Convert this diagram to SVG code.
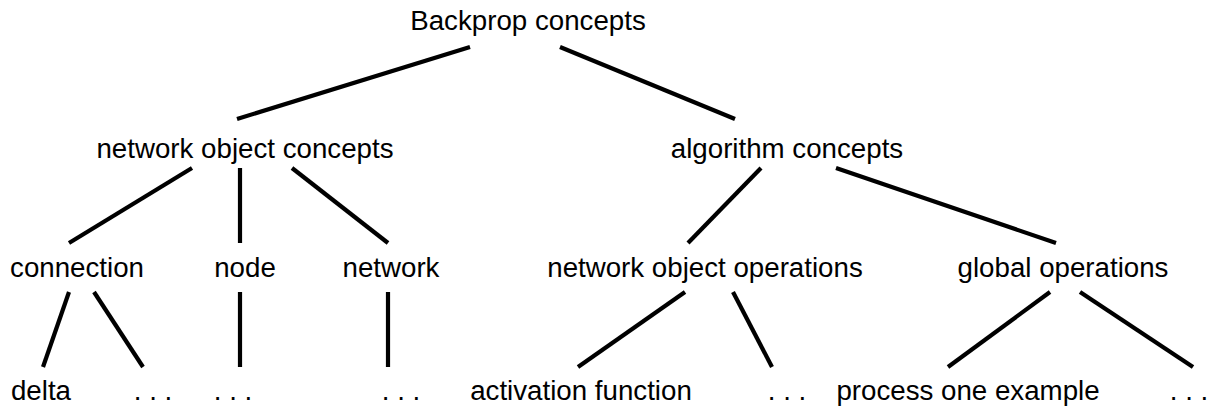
<svg xmlns="http://www.w3.org/2000/svg" width="1213" height="411" viewBox="0 0 1213 411">
<style>
text{font-family:"Liberation Sans",Arial,Helvetica,sans-serif;font-size:27.7px;fill:#000;text-anchor:middle}
.e{stroke:#000;stroke-width:4.2;fill:none}
</style>
<rect width="1213" height="411" fill="#fff"/>
<g id="connectors">
<line class="e" x1="470" y1="47" x2="237" y2="119"/>
<line class="e" x1="560" y1="47" x2="735" y2="119"/>
<line class="e" x1="192" y1="168" x2="69" y2="243"/>
<line class="e" x1="240" y1="168" x2="240" y2="243"/>
<line class="e" x1="292" y1="168" x2="388" y2="243"/>
<line class="e" x1="761" y1="168" x2="688" y2="243"/>
<line class="e" x1="836" y1="168" x2="1056" y2="243"/>
<line class="e" x1="69" y1="292" x2="43" y2="367"/>
<line class="e" x1="94" y1="292" x2="143" y2="367"/>
<line class="e" x1="240" y1="292" x2="240" y2="367"/>
<line class="e" x1="388" y1="292" x2="388" y2="367"/>
<line class="e" x1="685" y1="292" x2="578" y2="367"/>
<line class="e" x1="733" y1="292" x2="772" y2="367"/>
<line class="e" x1="1050" y1="292" x2="948" y2="367"/>
<line class="e" x1="1080" y1="292" x2="1193" y2="367"/>
</g>
<g id="root"><text x="528" y="30">Backprop concepts</text></g>
<g id="netobjconcepts"><text x="245" y="158">network object concepts</text></g>
<g id="algconcepts"><text x="787" y="158">algorithm concepts</text></g>
<g id="connection"><text x="77" y="277">connection</text></g>
<g id="node"><text x="245" y="277">node</text></g>
<g id="network"><text x="391" y="277">network</text></g>
<g id="netobjops"><text x="705" y="277">network object operations</text></g>
<g id="globalops"><text x="1063" y="277">global operations</text></g>
<g id="delta"><text x="41" y="400">delta</text></g>
<g id="conn-more"><text x="153" y="400">. . .</text></g>
<g id="node-more"><text x="233" y="400">. . .</text></g>
<g id="network-more"><text x="401" y="400">. . .</text></g>
<g id="activation"><text x="581" y="400">activation function</text></g>
<g id="netops-more"><text x="787" y="400">. . .</text></g>
<g id="process"><text x="968" y="400">process one example</text></g>
<g id="global-more"><text x="1189" y="400">. . .</text></g>
</svg>
